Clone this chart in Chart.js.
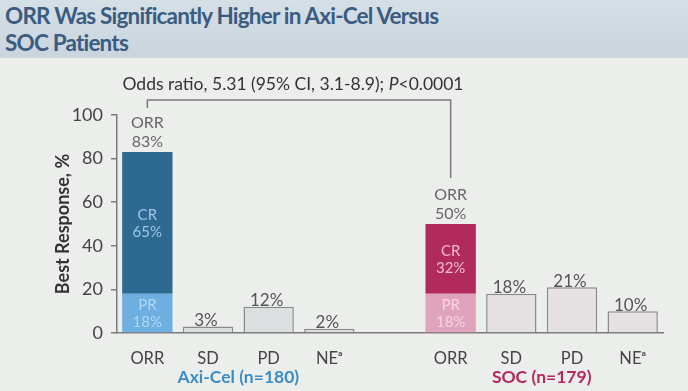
<!DOCTYPE html>
<html>
<head>
<meta charset="utf-8">
<script src="https://cdn.jsdelivr.net/npm/chart.js@4.4.0/dist/chart.umd.min.js"></script>
<style>
    html, body { margin: 0; padding: 0; }
    body {
        width: 688px; height: 391px; overflow: hidden; position: relative;
        background: #eceeec;
        font-family: Lato, "Open Sans", sans-serif;
    }
    .header {
        position: absolute; left: 0; top: 0; width: 688px; height: 58px;
        background: linear-gradient(to bottom, #d5dfe6, #c9d4dd);
    }
    .header h1 {
        margin: 0; padding: 2px 0 0 5px;
        font-size: 22.5px; line-height: 27px; font-weight: bold;
        color: #3b5c81; letter-spacing: -0.8px;
    }
    #chartWrap { position: absolute; left: 0; top: 0; width: 688px; height: 391px; }
</style>
</head>
<body>
<div class="header"><h1>ORR Was Significantly Higher in Axi-Cel Versus<br>SOC Patients</h1></div>
<div id="chartWrap"><canvas id="responseChart" width="688" height="391"></canvas></div>
<script>
// ========================================
// DADOS
// ========================================
const categories = ['ORR', 'SD', 'PD', 'NEᵃ', '', 'ORR', 'SD', 'PD', 'NEᵃ'];
const prValues = [18, null, null, null, null, 18, null, null, null];
const crValues = [65, null, null, null, null, 32, null, null, null];
const otherValues = [null, 3, 12, 2, null, null, 18, 21, 10];
const orrValues = [83, null, null, null, null, 50, null, null, null];
const yTicks = [0, 20, 40, 60, 80, 100];
const groups = [
    { label: 'Axi-Cel (n=180)', from: 0, to: 3, color: '#3a8cc8' },
    { label: 'SOC (n=179)', from: 5, to: 8, color: '#b3285d' }
];
const oddsText = ['Odds ratio, 5.31 (95% CI, 3.1-8.9); ', 'P', '<0.0001'];

// cores
const prColors = ['#6cafe0', null, null, null, null, '#e0a3bd'];
const crColors = ['#2d6990', null, null, null, null, '#b02a5b'];
const otherColors = [null, '#dcdfe0', '#dcdfe0', '#dcdfe0', null, null, '#e5e0e1', '#e5e0e1', '#e5e0e1'];
const prText = ['#b4d7f1', null, null, null, null, '#f6d4e1'];
const crText = ['#9fc6e4', null, null, null, null, '#f2bcd0'];

const FONT = 'Lato, "Open Sans", sans-serif';

// ========================================
// PLUGIN DE RÓTULOS
// ========================================
const labelsPlugin = {
    id: 'labelsPlugin',
    afterDatasetsDraw(chart) {
        const ctx = chart.ctx;
        const x = chart.scales.x;
        const y = chart.scales.y;
        const prMeta = chart.getDatasetMeta(0);
        const crMeta = chart.getDatasetMeta(1);
        const otherMeta = chart.getDatasetMeta(2);
        ctx.save();
        ctx.textAlign = 'center';
        ctx.textBaseline = 'middle';

        // ORR empilhado
        orrValues.forEach((v, i) => {
            if (v === null) return;
            const cx = x.getPixelForValue(i);
            const pr = prMeta.data[i];
            const cr = crMeta.data[i];
            ctx.font = '15px ' + FONT;
            ctx.fillStyle = crText[i];
            const crMid = (cr.y + cr.base) / 2;
            ctx.fillText('CR', cx, crMid - 8);
            ctx.fillText(crValues[i] + '%', cx, crMid + 9);
            ctx.fillStyle = prText[i];
            const prMid = (pr.y + pr.base) / 2;
            ctx.fillText('PR', cx, prMid - 8);
            ctx.fillText(prValues[i] + '%', cx, prMid + 9);
            ctx.font = '16px ' + FONT;
            ctx.fillStyle = '#666';
            const top = y.getPixelForValue(v);
            ctx.fillText('ORR', cx, top - 29);
            ctx.fillText(v + '%', cx, top - 10);
        });

        // outros valores
        ctx.font = '17px ' + FONT;
        ctx.fillStyle = '#555';
        otherValues.forEach((v, i) => {
            if (v === null) return;
            const bar = otherMeta.data[i];
            ctx.fillText(v + '%', bar.x - 2, bar.y - 6);
        });

        // grupos
        ctx.font = 'bold 17.5px ' + FONT;
        groups.forEach(g => {
            const cx = (x.getPixelForValue(g.from) + x.getPixelForValue(g.to)) / 2;
            ctx.fillStyle = g.color;
            ctx.fillText(g.label, cx, 377);
        });

        // colchete do odds ratio
        const x0 = x.getPixelForValue(0);
        const x1 = x.getPixelForValue(5);
        const by = chart.chartArea.top - 15;
        ctx.strokeStyle = '#7a7a7a';
        ctx.lineWidth = 1.5;
        ctx.beginPath();
        ctx.moveTo(x0, y.getPixelForValue(orrValues[0]) - 44);
        ctx.lineTo(x0, by);
        ctx.lineTo(x1, by);
        ctx.lineTo(x1, y.getPixelForValue(orrValues[5]) - 46);
        ctx.stroke();

        // texto do odds ratio
        const fonts = ['17.5px ' + FONT, 'italic 17.5px ' + FONT, '17.5px ' + FONT];
        let total = 0;
        const widths = oddsText.map((t, k) => {
            ctx.font = fonts[k];
            const w = ctx.measureText(t).width;
            total += w;
            return w;
        });
        let tx = (x0 + x1) / 2 - total / 2 - 6;
        ctx.textAlign = 'left';
        ctx.fillStyle = '#333';
        oddsText.forEach((t, k) => {
            ctx.font = fonts[k];
            ctx.fillText(t, tx, by - 16);
            tx += widths[k];
        });
        ctx.restore();
    }
};

// ========================================
// GRÁFICO
// ========================================
const ctx = document.getElementById('responseChart');
new Chart(ctx, {
    type: 'bar',
    data: {
        labels: categories,
        datasets: [
            { label: 'PR', data: prValues, backgroundColor: prColors, borderWidth: 0 },
            { label: 'CR', data: crValues, backgroundColor: crColors, borderWidth: 0 },
            { label: 'Other', data: otherValues, backgroundColor: otherColors, borderColor: '#8a8a8a', borderWidth: 1.5, borderSkipped: 'bottom' }
        ]
    },
    options: {
        responsive: false,
        animation: false,
        devicePixelRatio: 1,
        maintainAspectRatio: false,
        layout: { padding: { top: 115, right: 25, bottom: 0, left: 0 } },
        datasets: { bar: { categoryPercentage: 1, barPercentage: 0.83 } },
        plugins: { legend: { display: false }, tooltip: { enabled: false } },
        scales: {
            x: {
                stacked: true,
                grid: { drawOnChartArea: false, drawTicks: false },
                border: { color: '#7a7a7a', width: 1.5 },
                ticks: { color: '#444', font: { family: FONT, size: 16.5 }, padding: 16, maxRotation: 0, autoSkip: false },
                afterFit(scale) { scale.height = 58; }
            },
            y: {
                stacked: true,
                min: 0, max: 100,
                afterBuildTicks(scale) { scale.ticks = yTicks.map(v => ({ value: v })); },
                grid: { drawOnChartArea: false, tickLength: 6, color: '#7a7a7a', lineWidth: 1.5 },
                border: { color: '#7a7a7a', width: 1.5 },
                ticks: { color: '#444', font: { family: FONT, size: 18 }, padding: 8 },
                title: { display: true, text: 'Best Response, %', color: '#333', font: { family: FONT, size: 18, weight: 'bold' }, padding: { top: 52, bottom: 0 } },
                afterFit(scale) { scale.width = 117; }
            }
        }
    },
    plugins: [labelsPlugin]
});
</script>
</body>
</html>
